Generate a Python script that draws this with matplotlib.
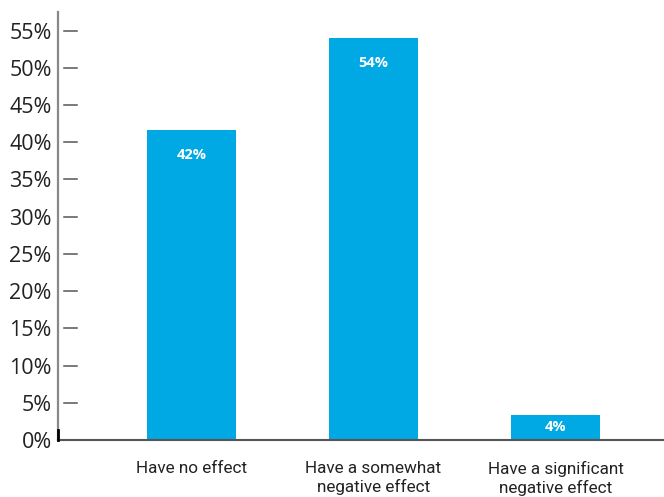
import matplotlib
matplotlib.use("Agg")
import matplotlib.pyplot as plt
import matplotlib.transforms as mtransforms

categories = ["Have no effect", "Have a somewhat\nnegative effect", "Have a significant\nnegative effect"]
values = [41.7, 54.0, 3.4]
value_labels = ["42%", "54%", "4%"]
yticks = [0, 5, 10, 15, 20, 25, 30, 35, 40, 45, 50, 55]
ytick_labels = [f"{t}%" for t in yticks]

plt.rcParams['font.family'] = ['Open Sans', 'DejaVu Sans']

W, H = 664, 497
fig = plt.figure(figsize=(W/100, H/100), dpi=100)
ax = fig.add_axes([58/W, (H-440)/H, (W-58)/W, (440-12)/H])

color = "#00A9E3"
x = list(range(len(categories)))
bars = ax.bar(x, values, width=0.49, color=color, zorder=2)

ax.set_xlim(-0.733, 2.596)
ax.set_ylim(0, 57.5)

ax.set_yticks(yticks)
ax.set_yticklabels(ytick_labels, fontsize=15.5, color="#222222")
ax.tick_params(axis='y', length=0, pad=4.5)
ax.set_xticks(x)
ax.set_xticklabels(categories, fontsize=12.3, color="#222222", linespacing=1.25,
                   family=['Roboto', 'Open Sans', 'DejaVu Sans'])
ax.tick_params(axis='x', length=0, pad=15)

for s in ['top', 'right']:
    ax.spines[s].set_visible(False)
ax.spines['left'].set_color('#888888')
ax.spines['left'].set_linewidth(1.6)
ax.spines['bottom'].set_color('#555555')
ax.spines['bottom'].set_linewidth(1.5)

# separate short tick marks
trans = mtransforms.blended_transform_factory(ax.transAxes, ax.transData)
aw = W - 58
for t in yticks[1:]:
    ax.plot([6/aw, 19/aw], [t, t], transform=trans, color='#555555', lw=1.1, clip_on=False)
ax.plot([0, 0], [0, 1.35], transform=trans, color='black', lw=2, clip_on=False, zorder=3)

ppu = (440-12)/57.5
for b, v, lab in zip(bars, values, value_labels):
    off_px = min(25, v*ppu/2)
    ax.annotate(lab, (b.get_x()+b.get_width()/2, v), xytext=(0, -off_px*0.72),
                textcoords='offset points', ha='center', va='center',
                color='white', fontsize=10.5, fontweight='bold')

fig.savefig("out.png", dpi=100)
